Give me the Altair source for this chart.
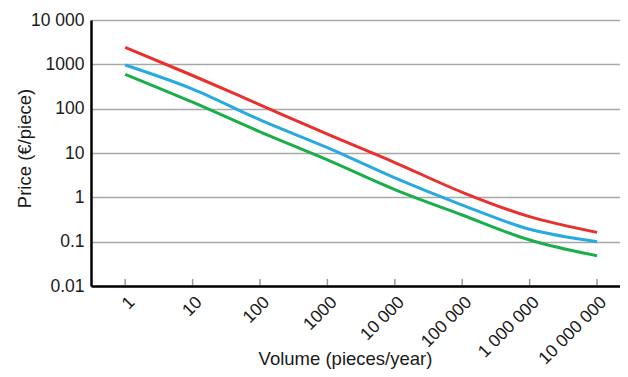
import altair as alt
import pandas as pd

# ---- data ----
volumes = [1, 10, 100, 1000, 10000, 100000, 1000000, 10000000]
price_red = [2420, 560, 122, 26.5, 6.1, 1.3, 0.366, 0.162]
price_blue = [966, 277, 56, 13.2, 2.75, 0.67, 0.19, 0.1]
price_green = [596, 140, 30, 7.0, 1.5, 0.4, 0.109, 0.048]
series_names = ["red", "blue", "green"]
series_colors = ["#e8302c", "#27a9e1", "#1aae4a"]

x_tick_values = [1, 10, 100, 1000, 10000, 100000, 1000000, 10000000]
x_tick_labels = ["1", "10", "100", "1000", "10 000", "100 000", "1 000 000", "10 000 000"]
y_tick_values = [0.01, 0.1, 1, 10, 100, 1000, 10000]
y_tick_labels = ["0.01", "0.1", "1", "10", "100", "1000", "10 000"]

rows = []
for name, vals in zip(series_names, [price_red, price_blue, price_green]):
    for v, p in zip(volumes, vals):
        rows.append({"series": name, "volume": v, "price": p})
df = pd.DataFrame(rows)
ticks_df = pd.DataFrame({"v": x_tick_values})


def label_expr(values, labels):
    expr = "''"
    for v, l in reversed(list(zip(values, labels))):
        expr = f"datum.value == {v} ? '{l}' : ({expr})"
    return expr


FONT = "Liberation Sans"
x_scale = alt.Scale(type="log", domain=[0.311, 2.19e7], nice=False)
y_scale = alt.Scale(type="log", domain=[0.01, 10000], nice=False)

lines = alt.Chart(df).mark_line(strokeWidth=3, interpolate="monotone").encode(
    x=alt.X(
        "volume:Q",
        scale=x_scale,
        axis=alt.Axis(
            values=x_tick_values,
            labelExpr=label_expr(x_tick_values, x_tick_labels),
            labelAngle=-45,
            labelAlign="right",
            labelBaseline="top",
            labelPadding=7,
            labelFontSize=17.5,
            ticks=False,
            grid=False,
            domainColor="#000000",
            domainWidth=2.5,
            title="Volume (pieces/year)",
            titleX=254,
            titleY=72,
            titleAlign="center",
            titleBaseline="middle",
            labelFlush=False,
            labelOverlap=False,
        ),
    ),
    y=alt.Y(
        "price:Q",
        scale=y_scale,
        axis=alt.Axis(
            values=y_tick_values,
            labelExpr=label_expr(y_tick_values, y_tick_labels),
            labelPadding=7,
            labelFontSize=17.5,
            ticks=False,
            grid=True,
            gridColor="#a8a8a8",
            gridWidth=1.6,
            domainColor="#000000",
            domainWidth=2.5,
            title="Price (€/piece)",
            titleAngle=270,
            titleX=-67,
            titleY=128,
            titleAlign="center",
            titleBaseline="middle",
            labelFlush=False,
            labelOverlap=False,
        ),
    ),
    color=alt.Color(
        "series:N",
        scale=alt.Scale(domain=series_names, range=series_colors),
        legend=None,
    ),
    detail="series:N",
)

tick_marks = alt.Chart(ticks_df).mark_rule(color="#999999", strokeWidth=1.5).encode(
    x=alt.X("v:Q", scale=x_scale),
    y=alt.value(259),
    y2=alt.value(265),
)

chart = (
    alt.layer(tick_marks, lines)
    .properties(
        width=529,
        height=266,
        autosize=alt.AutoSizeParams(type="none"),
        padding={"left": 83, "top": 12, "right": 0, "bottom": 83},
    )
    .configure_view(strokeWidth=0)
    .configure_axis(
        labelFont=FONT,
        labelColor="#1a1a1a",
        titleFont=FONT,
        titleFontSize=18.5,
        titleFontWeight="normal",
        titleColor="#1a1a1a",
    )
)

chart.save("out.html", embed_options={"renderer": "svg", "actions": False})
